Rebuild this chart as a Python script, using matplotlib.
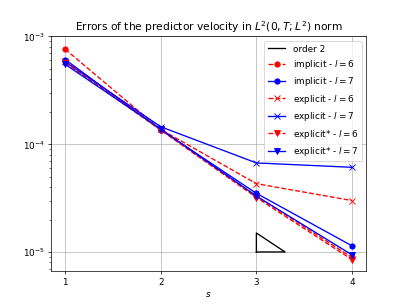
import matplotlib
matplotlib.use("Agg")
import matplotlib.pyplot as plt

# refinement levels s
s = [1, 2, 3, 4]

# errors, l = 6 (red) and l = 7 (blue)
implicit_l6 = [7.6e-4, 1.36e-4, 3.3e-5, 8.9e-6]
implicit_l7 = [6.1e-4, 1.36e-4, 3.5e-5, 1.14e-5]
explicit_l6 = [5.9e-4, 1.37e-4, 4.3e-5, 3.0e-5]
explicit_l7 = [5.8e-4, 1.45e-4, 6.7e-5, 6.1e-5]
explstar_l6 = [5.7e-4, 1.35e-4, 3.2e-5, 8.5e-6]
explstar_l7 = [5.5e-4, 1.38e-4, 3.3e-5, 9.4e-6]

# order-2 reference triangle
tri_x = [3, 3.3, 3, 3]
tri_y = [1e-5, 1e-5, 1.5e-5, 1e-5]

fig = plt.figure(figsize=(6.4, 4.8), dpi=407 / 6.4)
plt.semilogy(tri_x, tri_y, 'k-', label='order 2')
plt.semilogy(s, implicit_l6, 'r--o', label='implicit - $l=6$')
plt.semilogy(s, implicit_l7, 'b-o', label='implicit - $l=7$')
plt.semilogy(s, explicit_l6, 'r--x', label='explicit - $l=6$')
plt.semilogy(s, explicit_l7, 'b-x', label='explicit - $l=7$')
plt.semilogy(s, explstar_l6, 'r--v', label='explicit* - $l=6$')
plt.semilogy(s, explstar_l7, 'b-v', label='explicit* - $l=7$')

plt.xticks(s)
plt.ylim(6.6e-6, 1e-3)
plt.grid(True)
plt.xlabel('$s$')
plt.title('Errors of the predictor velocity in $L^2(0,T;L^2)$ norm')
plt.legend(loc='upper right')
plt.savefig('out.png', dpi=407 / 6.4)
